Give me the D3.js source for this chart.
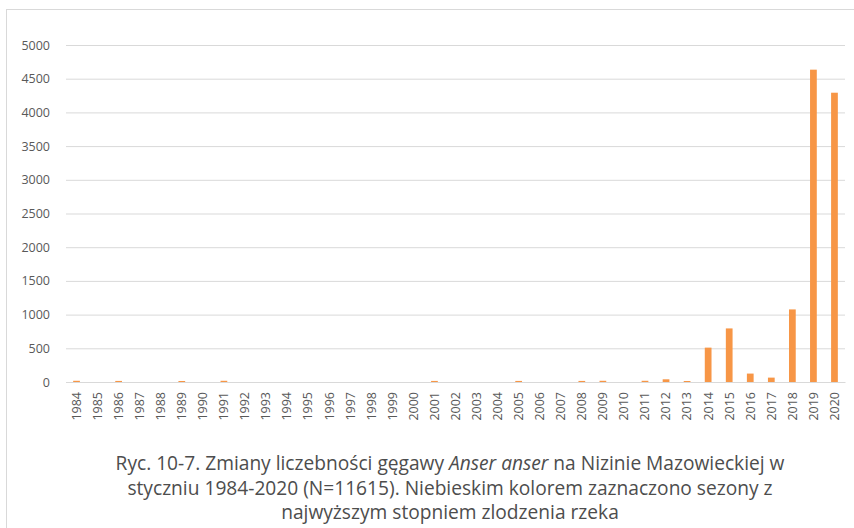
<!DOCTYPE html>
<html>
<head>
<meta charset="utf-8">
<script src="https://cdn.jsdelivr.net/npm/d3@7"></script>
<style>
  body { margin: 0; background: #fff; }
  svg { display: block; }
</style>
</head>
<body>
<svg id="chart" width="854" height="528"></svg>
<script>
// data
var years = d3.range(1984, 2021).map(String);
var counts = [18, 0, 16, 0, 0, 15, 0, 18, 0, 0, 0, 0, 0, 0, 0, 0, 0, 16, 0, 0, 0, 16, 0, 0, 16, 18, 0, 18, 40, 15, 510, 795, 125, 65, 1077, 4634, 4292];
var yTicks = [0, 500, 1000, 1500, 2000, 2500, 3000, 3500, 4000, 4500, 5000];
var captionLines = [
  [["Ryc. 10-7. Zmiany liczebności gęgawy ", false], ["Anser anser", true], [" na Nizinie Mazowieckiej w", false]],
  [["styczniu 1984-2020 (N=11615). Niebieskim kolorem  zaznaczono sezony z", false]],
  [["najwyższym  stopniem zlodzenia rzeka", false]]
];

var svg = d3.select("#chart");
var data = years.map(function(y, i) { return { year: y, value: counts[i] }; });

// outer frame
svg.append("rect")
  .attr("x", 6.5).attr("y", 9.5)
  .attr("width", 900).attr("height", 600)
  .attr("fill", "none")
  .attr("stroke", "#d9d9d9")
  .attr("stroke-width", 1);

var margin = { left: 66, right: 9, top: 45, bottom: 146 };
var width = 854 - margin.left - margin.right,
  height = 528 - margin.top - margin.bottom;

var g = svg.append("g")
  .attr("transform", "translate(" + margin.left + "," + margin.top + ")");

var x = d3.scaleBand().domain(years).range([0, width]).paddingInner(0.68).paddingOuter(0.34);
var y = d3.scaleLinear().domain([0, 5000]).range([height, 0]);

// gridlines + y labels
var yAxis = g.append("g")
  .call(d3.axisLeft(y).tickValues(yTicks).tickFormat(d3.format("d")).tickSize(-width).tickPadding(16));
yAxis.select(".domain").remove();
yAxis.selectAll(".tick line").attr("stroke", "#d9d9d9").attr("stroke-width", 1);
yAxis.selectAll(".tick text")
  .attr("fill", "#595959")
  .style("font-family", "'Open Sans', sans-serif")
  .style("font-size", "12.5px");

// bars
g.selectAll(".bar")
  .data(data)
  .enter().append("rect")
  .attr("class", "bar")
  .attr("x", function(d) { return x(d.year); })
  .attr("width", x.bandwidth())
  .attr("y", function(d) { return y(d.value); })
  .attr("height", function(d) { return height - y(d.value); })
  .attr("fill", "#f79646");

// x axis
var xAxis = g.append("g")
  .attr("transform", "translate(0," + height + ")")
  .call(d3.axisBottom(x).tickSize(0).tickPadding(0));
xAxis.select(".domain").attr("stroke", "#d9d9d9");
xAxis.selectAll(".tick text")
  .attr("transform", "rotate(-90)")
  .attr("x", -10)
  .attr("y", 0)
  .attr("dy", "0.35em")
  .attr("text-anchor", "end")
  .attr("fill", "#595959")
  .style("font-family", "'Open Sans', sans-serif")
  .style("font-size", "12.5px");

// caption
var cap = svg.append("g").attr("fill", "#4d4d4d")
  .style("font-family", "'Open Sans', sans-serif");
var lineY = [470, 495, 519];
var targetW = 669;
captionLines.forEach(function(parts, i) {
  var t = cap.append("text")
    .attr("x", 450).attr("y", lineY[i])
    .attr("text-anchor", "middle")
    .style("font-size", "16px");
  parts.forEach(function(p) {
    t.append("tspan").text(p[0]).style("font-style", p[1] ? "italic" : "normal");
  });
});
// scale font so first line matches width in reference
var w0 = cap.select("text").node().getComputedTextLength();
var fs = 16 * targetW / w0;
cap.selectAll("text").style("font-size", fs + "px");
</script>
</body>
</html>
